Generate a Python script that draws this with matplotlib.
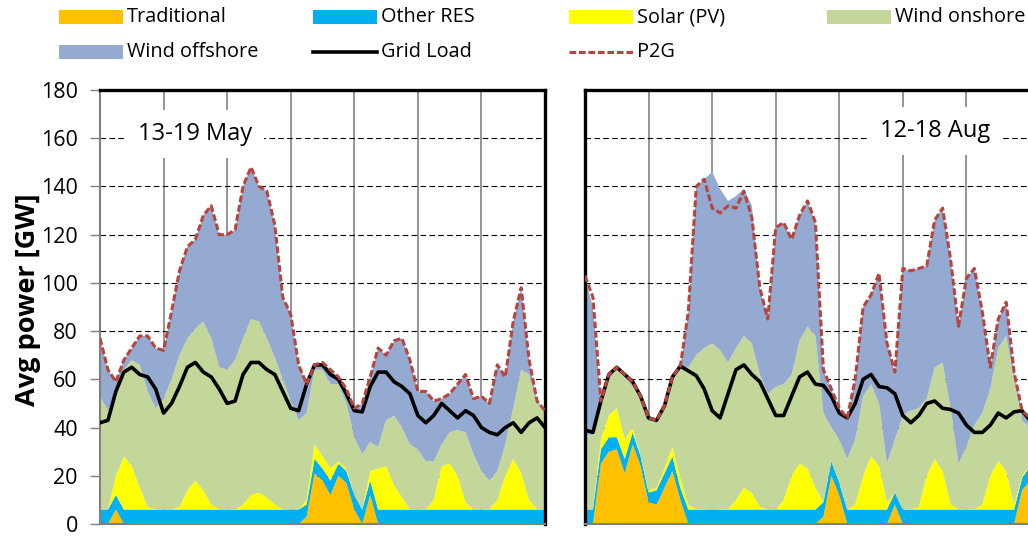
import matplotlib
matplotlib.use("Agg")
import matplotlib.pyplot as plt
from matplotlib.patches import Rectangle
from matplotlib.lines import Line2D

plt.rcParams["font.family"] = ["Open Sans", "DejaVu Sans"]

# time axis: one week, 3-hourly samples
hours = list(range(0, 169, 3))

# ---- 13-19 May (GW) ----
trad_may = [0, 0, 6, 0, 0, 0, 0, 0, 0, 0,
            0, 0, 0, 0, 0, 0, 0, 0, 0, 0,
            0, 0, 0, 0, 0, 0, 3, 21, 18, 12,
            20, 17, 6, 0, 12, 0, 0, 0, 0, 0,
            0, 0, 0, 0, 0, 0, 0, 0, 0, 0,
            0, 0, 0, 0, 0, 0, 0]
res_may = [6, 6, 6, 6, 6, 6, 6, 6, 6, 6,
           6, 6, 6, 6, 6, 6, 6, 6, 6, 6,
           6, 6, 6, 6, 6, 6, 5, 6, 5, 6,
           5, 5, 6, 6, 6, 6, 6, 6, 6, 6,
           6, 6, 6, 6, 6, 6, 6, 6, 6, 6,
           6, 6, 6, 6, 6, 6, 6]
solar_may = [0, 0, 8, 22, 18, 9, 1, 0, 0, 0,
             1, 8, 12, 8, 2, 0, 0, 0, 2, 6,
             7, 5, 2, 0, 0, 0, 2, 6, 5, 5,
             1, 1, 0, 0, 4, 17, 18, 10, 5, 0,
             0, 0, 4, 18, 19, 14, 3, 0, 0, 0,
             4, 14, 21, 15, 4, 0, 0]
onshore_may = [47, 41, 34, 36, 44, 51, 48, 42, 46, 54,
               63, 63, 63, 70, 69, 59, 58, 62, 69, 73,
               71, 66, 61, 54, 45, 37, 36, 31, 36, 35,
               32, 27, 24, 23, 12, 9, 19, 29, 29, 27,
               25, 20, 16, 9, 13, 19, 29, 23, 16, 12,
               12, 13, 21, 43, 52, 44, 41]
offshore_may = [24, 17, 5, 4, 5, 12, 23, 25, 20, 28,
                35, 38, 37, 44, 55, 55, 56, 54, 63, 63,
                56, 61, 55, 34, 36, 23, 12, 2, 3, 6,
                3, 6, 12, 21, 27, 41, 27, 31, 37, 35,
                24, 29, 25, 19, 16, 19, 24, 23, 31, 32,
                44, 28, 36, 34, 6, 1, 0]
load_may = [42, 43, 55, 63, 65, 62, 61, 56, 46, 50,
            57, 65, 67, 63, 61, 56, 50, 51, 62, 67,
            67, 64, 62, 55, 48, 47, 58, 66, 66, 62,
            60, 54, 47, 46.5, 57, 63, 63, 59, 57, 54,
            45, 42, 45, 50, 47, 44, 47, 45, 40, 38,
            37, 40, 42, 38, 42, 44, 40]
p2g_may = [77, 64, 59, 68, 73, 78, 78, 73, 72, 88,
           105, 115, 118, 128, 132, 120, 120, 122, 140, 148,
           140, 138, 124, 94, 87, 66, 58, 66, 67, 64,
           61, 56, 48, 50, 61, 73, 70, 76, 77, 68,
           55, 55, 51, 52, 54, 58, 62, 52, 53, 50,
           66, 61, 84, 98, 68, 51, 47]

# ---- 12-18 Aug (GW) ----
trad_aug = [0, 0, 25, 30, 31, 21, 33, 24, 9, 8,
            15, 22, 10, 0, 0, 0, 0, 0, 0, 0,
            0, 0, 0, 0, 0, 0, 0, 0, 0, 0,
            3, 20, 12, 0, 0, 0, 0, 0, 0, 8,
            0, 0, 0, 0, 0, 0, 0, 0, 0, 0,
            0, 0, 0, 0, 0, 14, 18]
res_aug = [6, 6, 6, 6, 5, 6, 5, 4, 4, 6,
           6, 6, 5, 6, 6, 6, 6, 6, 6, 6,
           6, 6, 6, 6, 6, 6, 6, 6, 6, 6,
           6, 6, 5, 6, 6, 6, 6, 6, 6, 5,
           6, 6, 6, 6, 6, 6, 6, 6, 6, 6,
           6, 6, 6, 6, 6, 5, 6]
solar_aug = [0, 0, 4, 9, 12, 8, 2, 0, 1, 1,
             2, 4, 4, 2, 0, 0, 0, 0, 0, 4,
             9, 7, 1, 0, 0, 4, 14, 19, 17, 9,
             0, 0, 0, 0, 2, 14, 22, 18, 3, 0,
             0, 0, 1, 14, 21, 16, 2, 0, 0, 0,
             2, 14, 20, 16, 2, 1, 0]
onshore_aug = [31, 31, 13, 15, 16, 26, 17, 24, 29, 27,
               25, 28, 45, 57, 64, 67, 69, 66, 61, 63,
               63, 62, 55, 48, 51, 48, 42, 51, 59, 63,
               37, 14, 18, 21, 27, 33, 30, 26, 16, 22,
               39, 41, 41, 32, 38, 45, 40, 19, 26, 35,
               38, 36, 47, 56, 52, 23, 16]
offshore_aug = [65, 53, 3, 2, 1, 1, 2, 1, 1, 1,
                1, 1, 1.5, 23, 70, 70, 71, 67, 67, 63,
                61, 57, 36, 31, 66, 67, 56, 52, 52, 47,
                18, 16, 13, 17, 25, 37, 37, 54, 50, 28,
                61, 58, 58, 55, 61, 64, 62, 57, 70, 65,
                42, 9, 12, 14, 3, 4, 4]
load_aug = [39, 38, 51, 62, 65, 62, 59, 53, 44, 43,
            49, 61, 65.5, 63.5, 61.5, 56, 47, 44, 54, 64,
            66, 62, 59, 52, 45, 45, 53, 61, 63, 58,
            57.5, 53, 46, 44, 50, 60, 62, 57, 56.5, 54,
            45, 42, 45, 50, 51, 48, 47.5, 46, 41, 38,
            38, 41, 46, 44, 46.5, 47, 43]
p2g_aug = [103, 94, 51, 62, 65, 62, 59, 53, 44, 43,
           49, 61, 65.5, 88, 140, 143, 131, 129, 132, 131,
           138, 127, 98, 85, 123, 125, 118, 128, 134, 125,
           64, 56, 48, 44, 60, 90, 95, 104, 75, 63,
           106, 105, 106, 107, 126, 131, 110, 82, 102, 106,
           88, 65, 85, 92, 63, 47, 44]

TRAD     = "#FFC000"
RES      = "#00B0F0"
SOLAR    = "#FFFF00"
ONSHORE  = "#C4D79B"
OFFSHORE = "#95AAD0"
P2G_COL  = "#B5463F"
DAYLINE  = "#8C8C8C"
AXGRAY   = "#808080"

W, H = 1028, 536
P2G_DASH = (0, (2.2, 0.9))


def draw_week(ax, trad, res, solar, onshore, offshore, load, p2g, label, lx, ly):
    ax.stackplot(hours, trad, res, solar, onshore, offshore,
                 colors=[TRAD, RES, SOLAR, ONSHORE, OFFSHORE],
                 linewidth=0, zorder=2)
    ax.plot(hours, load, color="black", lw=2.6, zorder=3,
            solid_joinstyle="round")
    ax.plot(hours, p2g, color=P2G_COL, lw=2.2, ls=P2G_DASH, zorder=4)

    ax.set_xlim(0, 168)
    ax.set_ylim(0, 180)
    ax.set_xticks(range(0, 169, 24))
    ax.set_yticks(range(0, 181, 20))
    ax.xaxis.grid(True, color=DAYLINE, lw=1.3)
    ax.yaxis.grid(True, color="black", lw=0.8, ls=(0, (5, 3)))
    ax.set_axisbelow(True)
    ax.tick_params(axis="x", length=0, labelbottom=False)

    ax.text(lx, ly, label, ha="center", va="center", fontsize=17, zorder=6,
            bbox=dict(facecolor="white", edgecolor="none",
                      boxstyle="square,pad=0.5"))


fig = plt.figure(figsize=(W / 100, H / 100), dpi=100)
ax1 = fig.add_axes([100 / W, 12 / H, 445 / W, 434 / H])
ax2 = fig.add_axes([585 / W, 12 / H, 445 / W, 434 / H])

draw_week(ax1, trad_may, res_may, solar_may, onshore_may, offshore_may,
          load_may, p2g_may, "13-19 May", 35.9, 161.7)
draw_week(ax2, trad_aug, res_aug, solar_aug, onshore_aug, offshore_aug,
          load_aug, p2g_aug, "12-18 Aug", 132.1, 162.9)

# spines
for side in ("top", "right"):
    ax1.spines[side].set_color("black")
    ax1.spines[side].set_linewidth(2.4)
for side in ("left", "bottom"):
    ax1.spines[side].set_color(AXGRAY)
    ax1.spines[side].set_linewidth(1.5)
for side in ("top", "left", "right"):
    ax2.spines[side].set_color("black")
    ax2.spines[side].set_linewidth(2.4)
ax2.spines["bottom"].set_color(AXGRAY)
ax2.spines["bottom"].set_linewidth(1.5)

ax1.tick_params(axis="y", direction="out", length=7, width=1,
                color=AXGRAY, labelsize=15.5, pad=9)
ax2.tick_params(axis="y", length=0, labelleft=False)

fig.text(28 / W, 1 - 300 / H, "Avg power [GW]", rotation=90,
         fontweight="bold", fontsize=19.5, ha="center", va="center")

# legend, laid out like the original (two rows, fixed columns)
legend_rows = [
    (17, [(59, "Traditional", "patch", TRAD),
          (313, "Other RES", "patch", RES),
          (569, "Solar (PV)", "patch", SOLAR),
          (827, "Wind onshore", "patch", ONSHORE)]),
    (52, [(59, "Wind offshore", "patch", OFFSHORE),
          (313, "Grid Load", "line", "black"),
          (569, "P2G", "dash", P2G_COL)]),
]
for yc, items in legend_rows:
    for x0, name, kind, col in items:
        if kind == "patch":
            fig.add_artist(Rectangle((x0 / W, 1 - (yc + 7) / H), 64 / W, 14 / H,
                                     transform=fig.transFigure,
                                     facecolor=col, edgecolor="none"))
        elif kind == "line":
            fig.add_artist(Line2D([x0 / W, (x0 + 64) / W], [1 - yc / H] * 2,
                                  transform=fig.transFigure, color=col, lw=2.6))
        else:
            fig.add_artist(Line2D([x0 / W, (x0 + 64) / W], [1 - yc / H] * 2,
                                  transform=fig.transFigure, color=col, lw=2.2,
                                  ls=P2G_DASH))
        fig.text((x0 + 68) / W, 1 - yc / H, name, fontsize=14.3,
                 ha="left", va="center")

fig.savefig("out.png", dpi=100)
